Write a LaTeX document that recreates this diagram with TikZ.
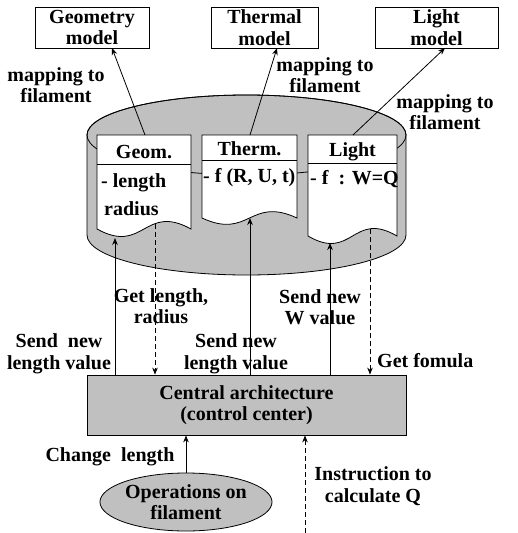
\documentclass[tikz,border=0pt]{standalone}
\usepackage{fontspec}
\setmainfont{Liberation Serif}
\usetikzlibrary{arrows.meta,shapes.geometric}
\definecolor{cylgray}{RGB}{192,192,192}
\begin{document}
\begin{tikzpicture}[x=1pt,y=-1pt,
  every node/.style={font=\fontsize{20}{21.5}\selectfont\bfseries, inner sep=0pt},
  lbl/.style={align=center},
  modelbox/.style={draw, line width=0.8pt, align=center, minimum height=41pt},
  doc/.style={draw, fill=white, line width=0.8pt},
  arr/.style={-{Stealth[length=7pt,width=5.5pt]}, line width=0.8pt},
  darr/.style={arr, dash pattern=on 5pt off 3pt},
]
\useasboundingbox (0,0) rectangle (518,533);

% model boxes
\node[modelbox, minimum width=114pt] (geo) at (92,27.5) {Geometry\\model};
\node[modelbox, minimum width=107pt] (therm) at (264.5,27.5) {Thermal\\model};
\node[modelbox, minimum width=123pt] (light) at (436.5,27.5) {Light\\model};

% cylinder
\filldraw[fill=cylgray, line width=0.8pt] (87,135) -- (87,235)
  arc[start angle=180, end angle=360, x radius=159.5pt, y radius=40pt]
  -- (406,135)
  arc[start angle=0, end angle=180, x radius=159.5pt, y radius=40pt] -- cycle;
\draw[line width=0.8pt] (246.5,135) ellipse [x radius=159.5pt, y radius=40pt];

% documents
\filldraw[doc] (97,229) -- (97,135) -- (191,135) -- (191,229)
  .. controls (144,203) and (144,255) .. (97,229) -- cycle;
\draw[line width=0.8pt] (97,164) -- (191,164);
\filldraw[doc] (202,218) -- (202,135) -- (297,135) -- (297,218)
  .. controls (249.5,196) and (249.5,240) .. (202,218) -- cycle;
\draw[line width=0.8pt] (202,160) -- (297,160);
\filldraw[doc] (308,236) -- (308,135) -- (397,135) -- (397,236)
  .. controls (352.5,210) and (352.5,262) .. (308,236) -- cycle;
\draw[line width=0.8pt] (308,163) -- (397,163);

% document texts
\node[anchor=base] (geoh) at (144,158) {Geom.};
\node[anchor=base west] (geob1) at (101,187) {- length};
\node[anchor=base west] (geob2) at (104,215) {radius};
\node[anchor=base] (therh) at (249.5,155) {Therm.};
\node[anchor=base west] (therb) at (203,182) {- f (R, U, t)};
\node[anchor=base] (lighth) at (352.5,156) {Light};
\node[anchor=base west] (lightb) at (310,184) {- f\ \ : W=Q};

% mapping arrows
\coordinate (geot) at (145,135);
\coordinate (geotip) at (112,48);
\coordinate (thert) at (250,135);
\coordinate (thertip) at (277,48);
\coordinate (lightt) at (353,135);
\coordinate (lighttip) at (445,48);
\draw[arr] (geot) -- (geotip);
\draw[arr] (thert) -- (thertip);
\draw[arr] (lightt) -- (lighttip);

\node[lbl] (m1) at (56,85) {mapping to\\filament};
\node[lbl] (m2) at (325,75) {mapping to\\filament};
\node[lbl] (m3) at (445,112) {mapping to\\filament};

% central box
\node[draw, fill=cylgray, line width=0.8pt, minimum width=319pt, minimum height=60pt, align=center] (cc) at (246.5,405) {Central architecture\\(control center)};

% vertical connectors
\coordinate (gu) at (115,238);
\coordinate (gd) at (155,224);
\coordinate (tu) at (250,218);
\coordinate (lu) at (330,243);
\coordinate (ld) at (370,229);
\draw[arr] (gu |- cc.north) -- (gu);
\draw[darr] (gd) -- (gd |- cc.north);
\draw[arr] (tu |- cc.north) -- (tu);
\draw[arr] (lu |- cc.north) -- (lu);
\draw[darr] (ld) -- (ld |- cc.north);

\node[lbl] (s1) at (59,354) {Send\ \ new\\length value};
\node[lbl] (g1) at (161,306) {Get length,\\radius};
\node[lbl] (s2) at (236,354) {Send new\\length value};
\node[lbl] (s3) at (320,307) {Send new\\W value};
\node[anchor=west] (gf) at (377,361) {Get fomula};

% bottom
\node[ellipse, draw, fill=cylgray, line width=0.8pt, minimum width=160pt, minimum height=58pt, align=center] (ops) at (186,502) {Operations on\\filament};
\draw[arr] (ops.north) -- (ops.north |- cc.south);
\coordinate (ib) at (305,533);
\draw[darr] (ib) -- (ib |- cc.south);
\node (cl) at (110,457) {Change\ \ length};
\node[lbl] (ins) at (373,486) {Instruction to\\calculate Q};
\end{tikzpicture}
\end{document}
